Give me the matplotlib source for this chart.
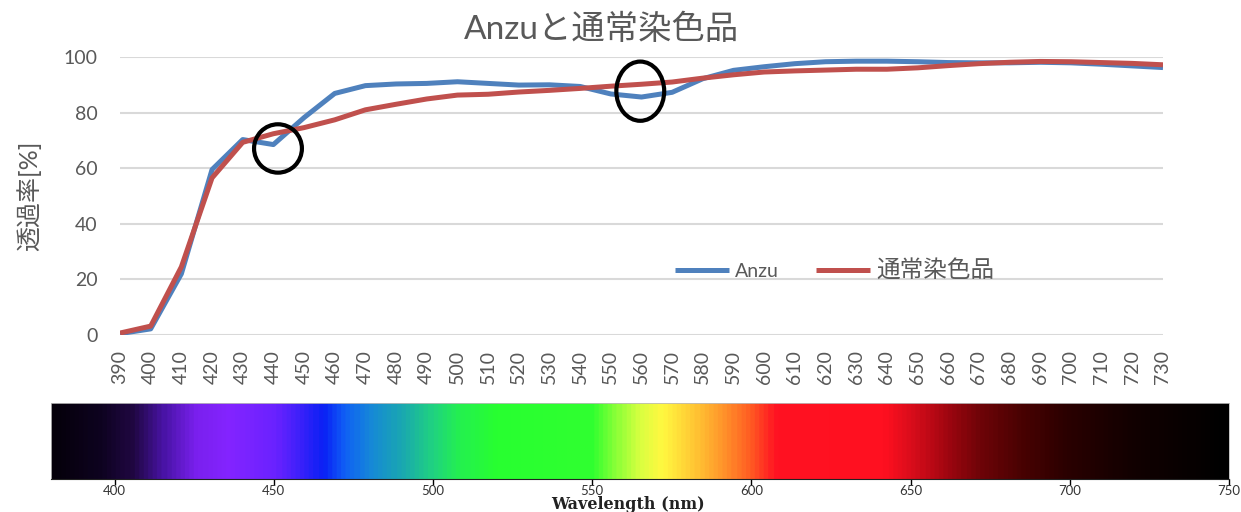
import numpy as np
import matplotlib
matplotlib.use("Agg")
from matplotlib import pyplot as plt
from matplotlib.colors import LinearSegmentedColormap
from matplotlib.patches import Ellipse

plt.rcParams['font.family'] = ['Lato', 'Noto Sans CJK JP', 'DejaVu Sans']

# transmittance data
wavelength = [390, 400, 410, 420, 430, 440, 450, 460, 470, 480, 490, 500,
              510, 520, 530, 540, 550, 560, 570, 580, 590, 600, 610, 620,
              630, 640, 650, 660, 670, 680, 690, 700, 710, 720, 730]
anzu = [0.5, 2.2, 22.0, 59.5, 70.3, 68.5, 78.2, 86.9, 89.7, 90.3, 90.5, 91.1,
        90.5, 89.9, 90.0, 89.4, 86.7, 85.6, 87.3, 92.2, 95.2, 96.5, 97.6, 98.3,
        98.5, 98.5, 98.3, 98.0, 97.9, 97.9, 98.1, 97.9, 97.4, 96.8, 96.2]
normal = [0.7, 3.2, 24.5, 56.5, 69.3, 72.4, 74.6, 77.4, 81.0, 83.0, 84.9, 86.3,
          86.6, 87.4, 88.0, 88.7, 89.5, 90.2, 91.0, 92.4, 93.6, 94.6, 95.0, 95.3,
          95.6, 95.6, 96.1, 96.9, 97.6, 98.1, 98.4, 98.3, 98.0, 97.7, 97.2]
series_names = ['Anzu', '通常染色品']
title = 'Anzuと通常染色品'
ylabel = '透過率[%]'

# visible spectrum strip (colour stops)
spec_nm = [380, 395, 405, 415, 425, 435, 450, 458, 465, 472, 480, 490, 500,
           508, 520, 550, 558, 565, 572, 582, 592, 600, 608, 642, 652, 662,
           672, 685, 700, 720, 750]
spec_col = ['#05000a', '#0e0320', '#200742', '#4a14a8', '#7a20ee', '#8424ff',
            '#6a22ff', '#3a20fa', '#0a20f5', '#1060f5', '#1688d8', '#1aa8b0',
            '#20d47e', '#24f050', '#28ff30', '#30ff30', '#90ff38', '#d8ff40',
            '#fff840', '#ffc834', '#ff902a', '#ff5a22', '#ff1222', '#ff1020',
            '#d40c1a', '#a00610', '#700408', '#4a0202', '#2a0000', '#120000',
            '#000000']

gray = '#595959'
fig = plt.figure(figsize=(12.41, 5.12), dpi=100)

ax = fig.add_axes([120 / 1241, 1 - 335 / 512, 1043 / 1241, 278 / 512])
ax.plot(wavelength, anzu, color='#4f81bd', lw=3.6, label=series_names[0],
        solid_capstyle='butt', zorder=3)
ax.plot(wavelength, normal, color='#c0504d', lw=3.6, label=series_names[1],
        solid_capstyle='butt', zorder=4)
ax.set_xlim(390, 730)
ax.set_ylim(0, 100)
ax.set_xticks(wavelength)
ax.set_xticklabels([str(w) for w in wavelength], rotation=90)
ax.set_yticks([0, 20, 40, 60, 80, 100])
ax.tick_params(axis='both', length=0, labelsize=14, labelcolor=gray)
ax.tick_params(axis='y', pad=16)
ax.tick_params(axis='x', pad=11)
ax.grid(axis='y', color='#d9d9d9', lw=1.5)
ax.set_axisbelow(True)
for s in ax.spines.values():
    s.set_visible(False)
ax.set_ylabel(ylabel, fontsize=18, color=gray, labelpad=16)
ax.set_title(title, fontsize=24, color=gray, pad=13, x=0.462)

# highlight circles
ax.add_patch(Ellipse((441.5, 67.1), 15.6, 17.4, fill=False, ec='black',
                     lw=3.0, zorder=5, clip_on=False))
ax.add_patch(Ellipse((559.6, 87.7), 15.6, 21.3, fill=False, ec='black',
                     lw=3.0, zorder=5, clip_on=False))

leg = ax.legend(loc='center left', bbox_to_anchor=(0.515, 0.235), ncol=2,
                frameon=False, fontsize=14, labelcolor=gray, handlelength=2.8,
                columnspacing=1.9, handletextpad=0.3)
leg.get_texts()[1].set_fontsize(17)

# spectrum strip with wavelength axis
ax2 = fig.add_axes([51 / 1241, 1 - 479 / 512, 1178 / 1241, 76 / 512])
cmap = LinearSegmentedColormap.from_list(
    'spec', [((n - spec_nm[0]) / (spec_nm[-1] - spec_nm[0]), c)
             for n, c in zip(spec_nm, spec_col)])
grad = np.linspace(0, 1, 800)[None, :]
ax2.imshow(grad, cmap=cmap, aspect='auto',
           extent=[spec_nm[0], spec_nm[-1], 0, 1])
ax2.set_xlim(spec_nm[0], spec_nm[-1])
ax2.set_ylim(0, 1)
ax2.set_yticks([])
ax2.set_xticks([400, 450, 500, 550, 600, 650, 700, 750])
ax2.tick_params(axis='x', length=4, width=1, labelsize=9.5, labelcolor='#333333',
                pad=0)
for k in ['top', 'left', 'right']:
    ax2.spines[k].set_color('#bbbbbb')
    ax2.spines[k].set_linewidth(0.6)
ax2.spines['bottom'].set_color('#222222')
fig.text(628 / 1241, 1 - 504.5 / 512, 'Wavelength (nm)', family='DejaVu Serif',
         fontsize=11.5, fontweight='bold', color='#222222', ha='center',
         va='center')

fig.savefig('out.png', dpi=100)
